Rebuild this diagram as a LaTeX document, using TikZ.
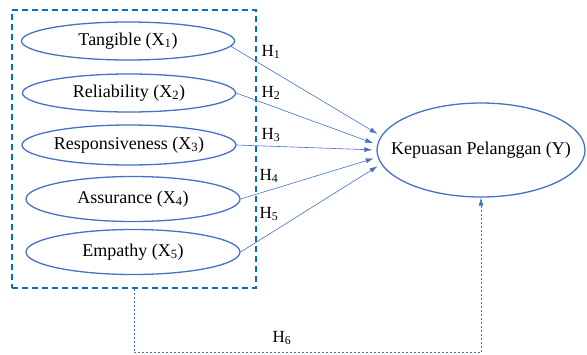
\documentclass[tikz,border=0pt]{standalone}
\usepackage{fontspec}
\setmainfont{Liberation Serif}
\usetikzlibrary{arrows.meta,shapes.geometric,calc}
\definecolor{oval}{HTML}{4472C4}
\definecolor{frame}{HTML}{0070C0}

\begin{document}
\begin{tikzpicture}[x=1pt, y=-1pt,
        var/.style={ellipse, draw=oval, line width=1.3pt, inner xsep=-20pt, inner ysep=-5pt, minimum width=213pt, font=\fontsize{18}{21}\selectfont},
        link/.style={draw=oval, line width=0.6pt, shorten >=4pt, -{Latex[length=8pt,width=5pt]}},
        hyp/.style={font=\fontsize{17}{20}\selectfont, inner sep=0pt}]
            \useasboundingbox (0,0) rectangle (587,354);

            \node[draw=frame, line width=1.5pt, dash pattern=on 6pt off 4pt, minimum width=244pt, minimum height=278pt] at (134, 149) (box) {};

            \node[var, minimum height=38pt] at (128, 41) (tang) {Tangible (X\textsubscript{1})};
            \node[var, minimum height=38pt] at (129, 93) (rel) {Reliability (X\textsubscript{2})};
            \node[var, minimum height=40pt, minimum width=214pt] at (129, 145) (resp) {Responsiveness (X\textsubscript{3})};
            \node[var, minimum height=45pt, minimum width=214pt] at (133, 199) (assu) {Assurance (X\textsubscript{4})};
            \node[var, minimum height=45pt, minimum width=214pt] at (133, 252) (emp) {Empathy (X\textsubscript{5})};

            \node[var, minimum width=208pt, minimum height=94pt] at (481, 150) (kp) {Kepuasan Pelanggan (Y)};

            \draw[link] (tang.-3.4) -- (kp.172.5);
            \draw[link] (rel.east) -- (kp.177);
            \draw[link] (resp.east) -- (kp.180);
            \draw[link] (assu.east) -- (kp.184);
            \draw[link] (emp.east) -- (kp.188.5);

            \node[hyp] at (271, 52) (h1) {H\textsubscript{1}};
            \node[hyp] at (271, 93) (h2) {H\textsubscript{2}};
            \node[hyp] at (271, 135) (h3) {H\textsubscript{3}};
            \node[hyp] at (269, 176) (h4) {H\textsubscript{4}};
            \node[hyp] at (269, 214) (h5) {H\textsubscript{5}};

            \draw[link, shorten >=0pt, dash pattern=on 2pt off 2pt] (box.south) -- ++(0, 64) -| (kp.south);
            \node[hyp] at (282, 338) (h6) {H\textsubscript{6}};
        \end{tikzpicture}
\end{document}
